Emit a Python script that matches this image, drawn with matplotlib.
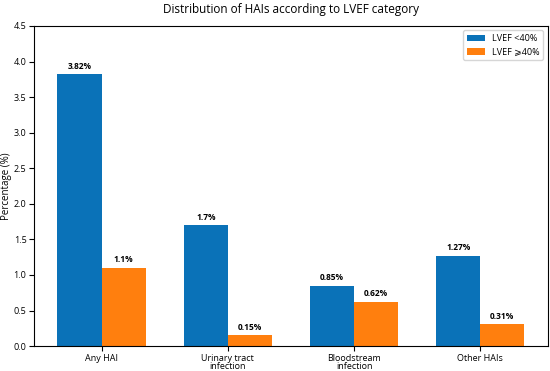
import matplotlib
matplotlib.use("Agg")
import matplotlib.pyplot as plt
import numpy as np

plt.rcParams['font.family'] = ['Open Sans', 'DejaVu Sans']

categories = ["Any HAI", "Urinary tract\ninfection", "Bloodstream\ninfection", "Other HAIs"]
lvef_low = [3.82, 1.7, 0.85, 1.27]
lvef_high = [1.1, 0.15, 0.62, 0.31]
low_labels = ["3.82%", "1.7%", "0.85%", "1.27%"]
high_labels = ["1.1%", "0.15%", "0.62%", "0.31%"]
series_names = ["LVEF <40%", "LVEF \u2a7e40%"]

fig, ax = plt.subplots(figsize=(5.5, 3.71), dpi=100)
fig.subplots_adjust(left=0.062, right=0.996, top=0.93, bottom=0.067)
x = np.arange(len(categories))
w = 0.35
b1 = ax.bar(x - w/2, lvef_low, w, color='#0a72b8', label=series_names[0])
b2 = ax.bar(x + w/2, lvef_high, w, color='#ff7f0e', label=series_names[1])
for bars, labs in ((b1, low_labels), (b2, high_labels)):
    for r, t in zip(bars, labs):
        ax.text(r.get_x() + r.get_width()/2, r.get_height() + 0.05, t,
                ha='center', va='bottom', fontsize=6, fontweight='bold')
ax.set_xticks(x)
ax.set_xticklabels(categories, fontsize=6.5, linespacing=0.95)
ax.tick_params(axis='x', pad=2)
ax.set_ylim(0, 4.5)
ax.set_yticks(np.arange(0, 4.51, 0.5))
ax.tick_params(axis='y', labelsize=6.5, pad=2)
ax.set_ylabel("Percentage (%)", fontsize=7, labelpad=1)
ax.set_title("Distribution of HAIs according to LVEF category", fontsize=8.5, pad=9)
ax.legend(fontsize=6.5, loc='upper right')
fig.savefig("out.png", dpi=100)
